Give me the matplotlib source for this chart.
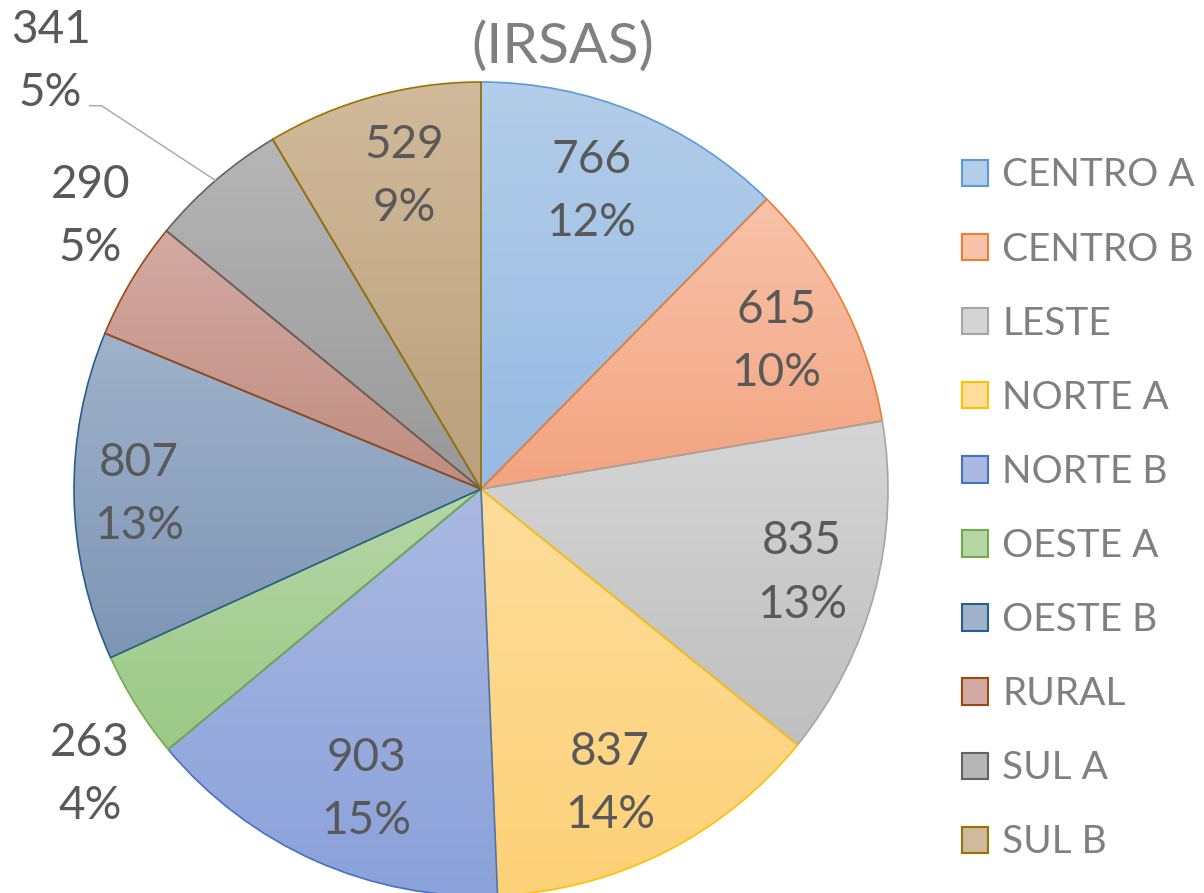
import numpy as np
import matplotlib
matplotlib.use("Agg")
import matplotlib.pyplot as plt
from matplotlib.patches import Patch
from matplotlib.colors import to_rgb

# ---- data ----
categories = ["CENTRO A", "CENTRO B", "LESTE", "NORTE A", "NORTE B",
              "OESTE A", "OESTE B", "RURAL", "SUL A", "SUL B"]
values = [766, 615, 835, 837, 903, 263, 807, 290, 341, 529]
pct_labels = ["12%", "10%", "13%", "14%", "15%", "4%", "13%", "5%", "5%", "9%"]
title = "(IRSAS)"

# ---- style ----
edge_colors = ["#5B9BD5", "#ED7D31", "#A5A5A5", "#FFC000", "#4472C4",
               "#70AD47", "#255E91", "#9E480E", "#636363", "#997300"]
top_colors = ["#b3cdea", "#f8c2aa", "#d5d5d5", "#fedd9b", "#abb9e2",
              "#b6d6a6", "#9fb2ca", "#d3aaa3", "#b6b6b6", "#d1ba9b"]
bot_colors = ["#96bae3", "#f3a480", "#bfbfbf", "#fdd178", "#8aa1da",
              "#9bc986", "#7e95b6", "#c08c7f", "#989898", "#baa07c"]
label_dist = [0.78, 0.81, 0.815, 0.79, 0.79, 1.19, 0.84, 1.17, 1.49, 0.79]
label_nudge = [-2, 1, 0, 3, -3, -4, 0, 4, -4.5, 1.5]  # degrees clockwise

FONT = ["Lato", "DejaVu Sans"]
plt.rcParams["font.family"] = FONT

W, H = 1204, 893
fig = plt.figure(figsize=(W / 100, H / 100), dpi=100)
cx, cy, R = 481, 489, 407
ax = fig.add_axes([(cx - R) / W, (H - cy - R) / H, 2 * R / W, 2 * R / H])
ax.set_aspect("equal")
ax.axis("off")

wedges, _ = ax.pie(values, startangle=90, counterclock=False, radius=1.0,
                   colors=["none"] * len(values),
                   wedgeprops=dict(linewidth=1.2, zorder=3))

for i, w in enumerate(wedges):
    w.set_edgecolor(edge_colors[i])
    w.set_facecolor("none")
    ext = w.get_path().get_extents()
    n = 256
    t = np.linspace(0, 1, n)[:, None]
    c0 = np.array(to_rgb(bot_colors[i]))
    c1 = np.array(to_rgb(top_colors[i]))
    grad = (c0[None, :] * (1 - t) + c1[None, :] * t)[:, None, :]
    im = ax.imshow(grad, extent=[ext.x0, ext.x1, ext.y0, ext.y1],
                   origin="lower", aspect="auto", zorder=2, interpolation="bilinear")
    im.set_clip_path(w)

ax.set_xlim(-1, 1)
ax.set_ylim(-1, 1)

label_color = "#595959"
for i, w in enumerate(wedges):
    mid = np.deg2rad((w.theta1 + w.theta2) / 2.0 - label_nudge[i])
    x = label_dist[i] * np.cos(mid)
    y = label_dist[i] * np.sin(mid)
    ax.text(x, y, f"{values[i]}\n{pct_labels[i]}", ha="center", va="center",
            fontsize=33, color=label_color, linespacing=1.62, zorder=5,
            clip_on=False, family=FONT)
    if label_dist[i] > 1.3:
        mm = np.deg2rad((w.theta1 + w.theta2) / 2.0)
        ex, ey = np.cos(mm), np.sin(mm)
        ax.plot([ex, x + 0.125, x + 0.096], [ey, y - 0.108, y - 0.108],
                color="#a6a6a6", lw=1.0, clip_on=False, zorder=4)

fig.text(563 / W, 1 - 47 / H, title, ha="center", va="center",
         fontsize=41, color="#808080", family=FONT)

handles = [Patch(facecolor=top_colors[i], edgecolor=edge_colors[i], linewidth=1.5)
           for i in range(len(categories))]
leg = fig.legend(handles, categories, loc="center left",
                 bbox_to_anchor=(962 / W, 1 - 509 / H), frameon=False,
                 fontsize=28, handlelength=0.67, handleheight=0.67,
                 handletextpad=0.36, labelspacing=0.98, borderpad=0,
                 borderaxespad=0)
for t in leg.get_texts():
    t.set_color("#808080")

fig.savefig("out.png", dpi=100)
